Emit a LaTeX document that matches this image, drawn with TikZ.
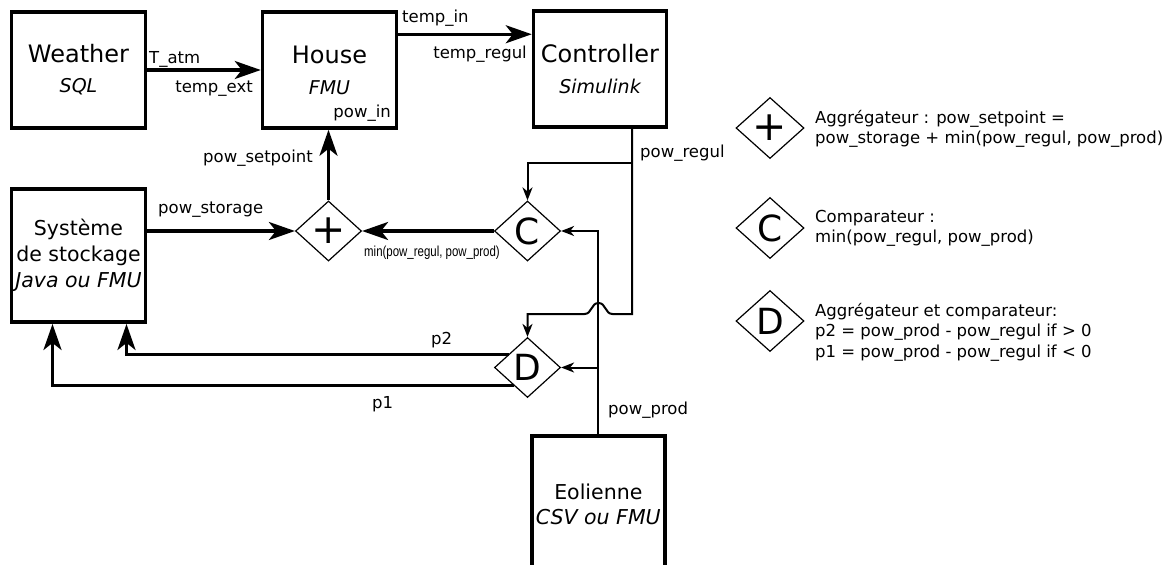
\documentclass[tikz,border=0pt]{standalone}
\usepackage{fontspec}
\setmainfont{DejaVu Sans}
\newfontfamily\narrowfont{Liberation Sans}
\usetikzlibrary{arrows.meta,shapes.geometric}
\begin{document}
\begin{tikzpicture}[x=1pt,y=-1pt,
  box/.style={draw,line width=3.5pt,rectangle,inner sep=0pt,align=center},
  dia/.style={draw,line width=1.2pt,diamond,inner sep=0pt,minimum width=66pt,minimum height=60pt,font=\fontsize{36}{36}\selectfont},
  thk/.style={line width=3.2pt,-{Stealth[length=26pt,width=18pt,inset=7pt]}},
  thn/.style={line width=2pt},
  thna/.style={thn,-{Stealth[length=13pt,width=10pt,inset=4pt]}},
  lab/.style={font=\fontsize{16.5}{20.4}\selectfont,inner sep=0pt},
  minlab/.style={font=\narrowfont\fontsize{14.5}{14.5}\selectfont,inner sep=0pt},
]
\useasboundingbox (0,0) rectangle (1173,565);

% boxes
\node[box,minimum width=134pt,minimum height=116pt,font=\fontsize{24}{30}\selectfont] (weather) at (78.5,70) {Weather\\{\fontsize{19}{30}\selectfont\itshape SQL}};
\node[box,minimum width=134pt,minimum height=116pt,font=\fontsize{24}{31}\selectfont] (house) at (329.5,70) {House\\{\fontsize{19}{31}\selectfont\itshape FMU}};
\node[box,minimum width=133pt,minimum height=116pt,font=\fontsize{24}{31}\selectfont] (ctrl) at (600,69) {Controller\\{\fontsize{19}{31}\selectfont\itshape Simulink}};
\node[box,minimum width=134pt,minimum height=133pt,font=\fontsize{20.5}{26}\selectfont] (storage) at (78.5,255.7) {Syst\`eme\\de stockage\\{\itshape Java ou FMU}};
\node[box,minimum width=133pt,minimum height=136pt,font=\fontsize{20.5}{25}\selectfont] (eol) at (598.3,504) {Eolienne\\{\itshape CSV ou FMU}};

% operators
\node[dia,font=\fontsize{41}{41}\selectfont] (plus) at (328.5,231) {+};
\node[dia] (C) at (527.5,231) {C};
\node[dia] (D) at (527.5,367.5) {D};

% connectors
\draw[thk] (weather.east) -- (house.west);
\coordinate (hc) at ([yshift=-24pt]house.north east);
\draw[thk] (hc) -- (hc -| ctrl.west);
\draw[thk] (plus.north) -- (plus.north |- house.south);
\draw[thk] (storage.east |- plus.west) -- (plus.west);
\draw[thk] (C.west) -- (plus.east);

\coordinate (cs) at ([xshift=32pt]ctrl.south);
\coordinate (rg) at (632,163);
\coordinate (rb) at (632,314);
\draw[thna] (cs) -- (rb) -- (612.5,314) .. controls (605,314) and (606,303) .. (598.5,303) .. controls (591,303) and (592,314) .. (584.5,314) -| (D.north);
\draw[thna] (rg) -| (C.north);
\draw[thna] (eol.north) |- (C.east);
\draw[thna] (eol.north |- D.east) -- (D.east);

\draw[thk] (D.145) -| ([xshift=48pt]storage.south);
\draw[thk] (D.232) -| ([xshift=-26pt]storage.south);

% labels
\node[lab,anchor=base west] (l1) at (149,63) {T\_atm};
\node[lab,anchor=base east] (l2) at (253,92) {temp\_ext};
\node[lab,anchor=base east] (l3) at (391,117) {pow\_in};
\node[lab,anchor=base east] (l4) at (313,162) {pow\_setpoint};
\node[lab,anchor=base west] (l5) at (402,22) {temp\_in};
\node[lab,anchor=base east] (l6) at (527,58) {temp\_regul};
\node[lab,anchor=base west] (l7) at (640,157) {pow\_regul};
\node[lab,anchor=base west] (l8) at (158,213) {pow\_storage};
\node[minlab,anchor=base east] (l9) at (500,256) {\scalebox{0.79}[1]{min(pow\_regul, pow\_prod)}};
\node[lab,anchor=base west] (l10) at (431,344) {p2};
\node[lab,anchor=base west] (l11) at (372,408) {p1};
\node[lab,anchor=base west] (l12) at (608,414) {pow\_prod};

% legend
\node[dia,minimum width=68pt,minimum height=61pt,font=\fontsize{41}{41}\selectfont] (lp) at (770,128) {+};
\node[dia,minimum width=68pt,minimum height=61pt] (lc) at (770,228) {C};
\node[dia,minimum width=68pt,minimum height=61pt] (ld) at (770,321) {D};
\node[lab,anchor=west,align=left] (tp) at (815,128.7) {Aggr\'egateur : pow\_setpoint =\\pow\_storage + min(pow\_regul, pow\_prod)};
\node[lab,anchor=west,align=left] (tc) at (815,228.2) {Comparateur :\\min(pow\_regul, pow\_prod)};
\node[lab,anchor=west,align=left] (td) at (815,332) {Aggr\'egateur et comparateur:\\p2 = pow\_prod - pow\_regul if > 0\\p1 = pow\_prod - pow\_regul if < 0};
\end{tikzpicture}
\end{document}
